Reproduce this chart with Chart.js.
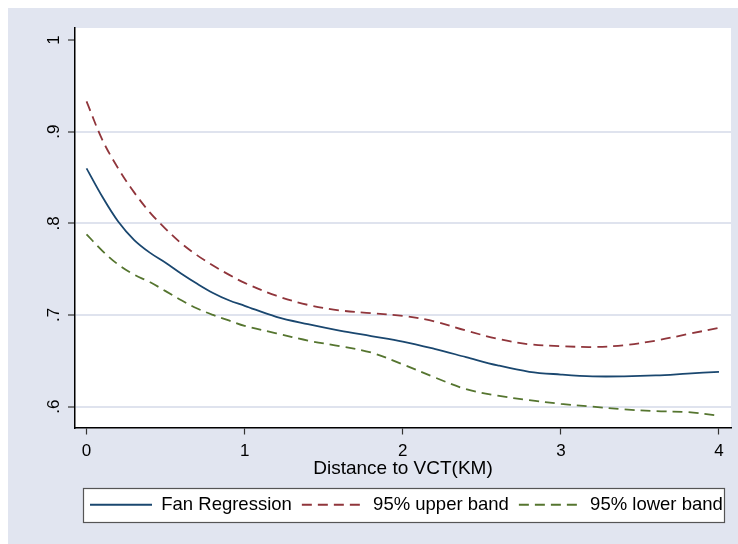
<!DOCTYPE html>
<html>
<head>
<meta charset="utf-8">
<script src="https://cdn.jsdelivr.net/npm/chart.js@4/dist/chart.umd.min.js"></script>
<style>
  html, body { margin: 0; padding: 0; background: #ffffff; }
  #wrap { width: 738px; height: 544px; }
</style>
</head>
<body>
<div id="wrap"><canvas id="c" width="738" height="544"></canvas></div>
<script>
// ---- data ----
const distance = [0, 0.1, 0.2, 0.3, 0.4, 0.5, 0.6, 0.7, 0.8, 0.9, 1.0, 1.2, 1.4, 1.6, 1.8, 2.0, 2.2, 2.4, 2.6, 2.8, 3.0, 3.2, 3.4, 3.6, 3.8, 4.0];
const fanRegression = [0.860, 0.829, 0.802, 0.782, 0.768, 0.757, 0.745, 0.734, 0.724, 0.716, 0.710, 0.698, 0.690, 0.683, 0.677, 0.671, 0.663, 0.654, 0.645, 0.638, 0.635, 0.633, 0.633, 0.634, 0.636, 0.638];
const upperBand = [0.933, 0.891, 0.860, 0.834, 0.812, 0.794, 0.778, 0.765, 0.754, 0.744, 0.735, 0.721, 0.711, 0.705, 0.702, 0.699, 0.693, 0.683, 0.674, 0.668, 0.666, 0.665, 0.667, 0.672, 0.679, 0.686];
const lowerBand = [0.788, 0.770, 0.755, 0.744, 0.736, 0.726, 0.716, 0.707, 0.700, 0.694, 0.688, 0.680, 0.672, 0.666, 0.659, 0.646, 0.632, 0.619, 0.612, 0.607, 0.603, 0.600, 0.597, 0.595, 0.594, 0.590];
const seriesNames = ['Fan Regression', '95% upper band', '95% lower band'];
const xTickValues = [0, 1, 2, 3, 4];
const xTickLabels = ['0', '1', '2', '3', '4'];
const yTickValues = [0.6, 0.7, 0.8, 0.9, 1.0];
const yTickLabels = ['.6', '.7', '.8', '.9', '1'];
const xTitle = 'Distance to VCT(KM)';

const BG = '#e1e5f0';
const GRID = '#dfe3ee';
const FONT = "'Liberation Sans', Arial, sans-serif";
const LEGEND_START_X = 90;

function pts(vals) { return distance.map((d, i) => ({ x: d, y: vals[i] })); }

const bgPlugin = {
  id: 'bgPlugin',
  beforeDraw(chart) {
    const ctx = chart.ctx;
    const a = chart.chartArea;
    ctx.save();
    ctx.fillStyle = '#ffffff';
    ctx.fillRect(0, 0, chart.width, chart.height);
    ctx.fillStyle = BG;
    ctx.fillRect(8, 8, chart.width - 8, chart.height - 8);
    ctx.fillStyle = '#ffffff';
    ctx.fillRect(a.left, a.top, a.right - a.left, a.bottom - a.top);
    // legend: align first item and draw a frame
    const lg = chart.legend;
    if (lg && lg.legendHitBoxes && lg.legendHitBoxes.length) {
      const hb = lg.legendHitBoxes;
      const delta = LEGEND_START_X - hb[0].left;
      if (Math.abs(delta) > 0.01) {
        lg.left += delta; lg.right += delta;
        hb.forEach(h => { h.left += delta; });
      }
      let l = Infinity, r = -Infinity, t = Infinity, b = -Infinity;
      hb.forEach(h => { l = Math.min(l, h.left); r = Math.max(r, h.left + h.width); t = Math.min(t, h.top); b = Math.max(b, h.top + h.height); });
      const x0 = Math.round(l - 7) + 0.5, x1 = Math.round(r + 1) + 0.5;
      const cy = (t + b) / 2;
      const y0 = Math.round(cy - 17) + 0.5, y1 = Math.round(cy + 17) + 0.5;
      ctx.fillStyle = '#ffffff';
      ctx.fillRect(x0, y0, x1 - x0, y1 - y0);
      ctx.strokeStyle = '#555555';
      ctx.lineWidth = 1.2;
      ctx.strokeRect(x0, y0, x1 - x0, y1 - y0);
    }
    ctx.restore();
  }
};

new Chart(document.getElementById('c'), {
  type: 'line',
  data: {
    datasets: [
      { label: seriesNames[0], data: pts(fanRegression), borderColor: '#1a476f', borderWidth: 1.8, borderDash: [], pointRadius: 0, tension: 0.35, fill: false },
      { label: seriesNames[1], data: pts(upperBand), borderColor: '#90353b', borderWidth: 1.8, borderDash: [10, 6], pointRadius: 0, tension: 0.35, fill: false },
      { label: seriesNames[2], data: pts(lowerBand), borderColor: '#55752f', borderWidth: 1.8, borderDash: [10, 6], pointRadius: 0, tension: 0.35, fill: false }
    ]
  },
  options: {
    responsive: false,
    animation: false,
    devicePixelRatio: 1,
    layout: { padding: { left: 8, top: 28, right: 7, bottom: 20 } },
    plugins: {
      title: { display: false },
      tooltip: { enabled: false },
      legend: {
        display: true,
        position: 'bottom',
        fullSize: false,
        labels: {
          usePointStyle: true,
          pointStyle: 'line',
          pointStyleWidth: 62,
          boxHeight: 18,
          padding: 10,
          color: '#000000',
          font: { family: FONT, size: 18.5 },
          generateLabels(chart) {
            const items = Chart.defaults.plugins.legend.labels.generateLabels(chart);
            return items.map(it => {
              const ds = chart.data.datasets[it.datasetIndex];
              it.lineDash = ds.borderDash || [];
              it.strokeStyle = ds.borderColor;
              it.fillStyle = ds.borderColor;
              it.lineWidth = ds.borderWidth;
              it.pointStyle = 'line';
              return it;
            });
          }
        }
      }
    },
    scales: {
      x: {
        type: 'linear',
        min: -0.073,
        max: 4.076,
        afterBuildTicks(scale) { scale.ticks = xTickValues.map(v => ({ value: v })); },
        afterFit(scale) { scale.height = 58; },
        ticks: {
          callback: (v, i) => xTickLabels[i],
          color: '#000000',
          font: { family: FONT, size: 17 },
          padding: 7,
          maxRotation: 0, minRotation: 0
        },
        grid: { drawOnChartArea: false, drawTicks: true, tickLength: 7, tickColor: '#333333', tickWidth: 1.2 },
        border: { display: true, color: '#000000', width: 1.5 },
        title: { display: true, text: xTitle, color: '#000000', font: { family: FONT, size: 19, lineHeight: 1.1 }, padding: { top: 0, bottom: 6 } }
      },
      y: {
        type: 'linear',
        min: 0.5772,
        max: 1.0131,
        afterBuildTicks(scale) { scale.ticks = yTickValues.map(v => ({ value: v })); },
        afterFit(scale) { scale.width = 67; },
        ticks: {
          callback: (v, i) => yTickLabels[i],
          color: '#000000',
          font: { family: FONT, size: 17 },
          padding: 7,
          minRotation: 90, maxRotation: 90,
          crossAlign: 'center'
        },
        grid: {
          drawOnChartArea: true,
          color: (c) => (c.tick && Math.abs(c.tick.value - 1) < 1e-6) ? 'rgba(0,0,0,0)' : GRID,
          lineWidth: 2,
          drawTicks: true, tickLength: 7, tickColor: '#333333', tickWidth: 1.2
        },
        border: { display: true, color: '#000000', width: 1.5 }
      }
    }
  },
  plugins: [bgPlugin]
});
</script>
</body>
</html>
